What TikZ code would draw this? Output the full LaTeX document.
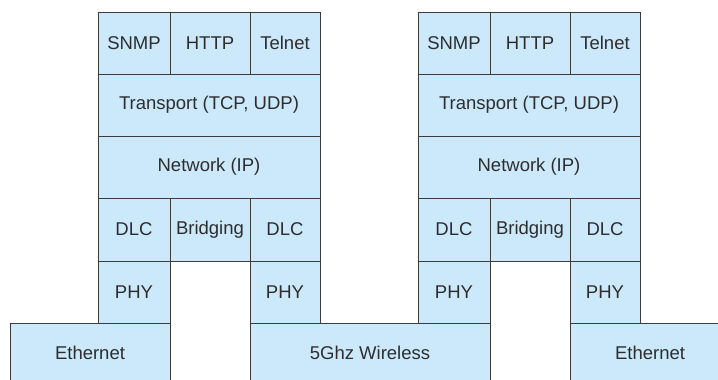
\documentclass[tikz,border=0pt]{standalone}
\usepackage{fontspec}
\setmainfont{Liberation Sans}
\definecolor{layerblue}{RGB}{204,233,252}
\definecolor{layerline}{RGB}{60,60,60}
\definecolor{layertext}{RGB}{45,45,45}

\begin{document}
\begin{tikzpicture}[x=1pt,y=-1pt]
        \tikzset{layer/.style = {shape=rectangle, draw=layerline, line width=0.9pt, fill=layerblue,
            text=layertext, anchor=north west, inner sep=0pt, outer sep=0pt,
            font=\fontsize{18.5}{22}\selectfont}}
        \tikzset{row/.style = {layer, minimum height=62pt}}

        \useasboundingbox (0,0) rectangle (718,380);
        \clip (0,0) rectangle (718,380);

        % protocol stacks
        \foreach \s/\x in {l/98, r/418} {
            \node[row, minimum width=72pt] (\s-snmp) at (\x,12) {SNMP};
            \node[row, minimum width=80pt] (\s-http) at (\x+72,12) {HTTP};
            \node[row, minimum width=70pt] (\s-telnet) at (\x+152,12) {Telnet};
            \node[row, minimum width=222pt] (\s-transport) at (\x,74) {Transport (TCP, UDP)};
            \node[row, minimum width=222pt] (\s-network) at (\x,136) {Network (IP)};
            \node[row, minimum width=72pt, minimum height=63pt] (\s-dlc1) at (\x,198) {DLC};
            \node[row, minimum width=80pt, minimum height=63pt] (\s-bridging) at (\x+72,198) {Bridging};
            \node[row, minimum width=70pt, minimum height=63pt] (\s-dlc2) at (\x+152,198) {DLC};
            \node[row, minimum width=72pt] (\s-phy1) at (\x,261) {PHY};
            \node[row, minimum width=70pt] (\s-phy2) at (\x+152,261) {PHY};
        }

        % media
        \node[layer, minimum width=160pt, minimum height=59pt] (eth-l) at (10,323) {Ethernet};
        \node[layer, minimum width=240pt, minimum height=59pt] (wireless) at (250,323) {5Ghz Wireless};
        \node[layer, minimum width=160pt, minimum height=59pt] (eth-r) at (570,323) {Ethernet};

\end{tikzpicture}
\end{document}
